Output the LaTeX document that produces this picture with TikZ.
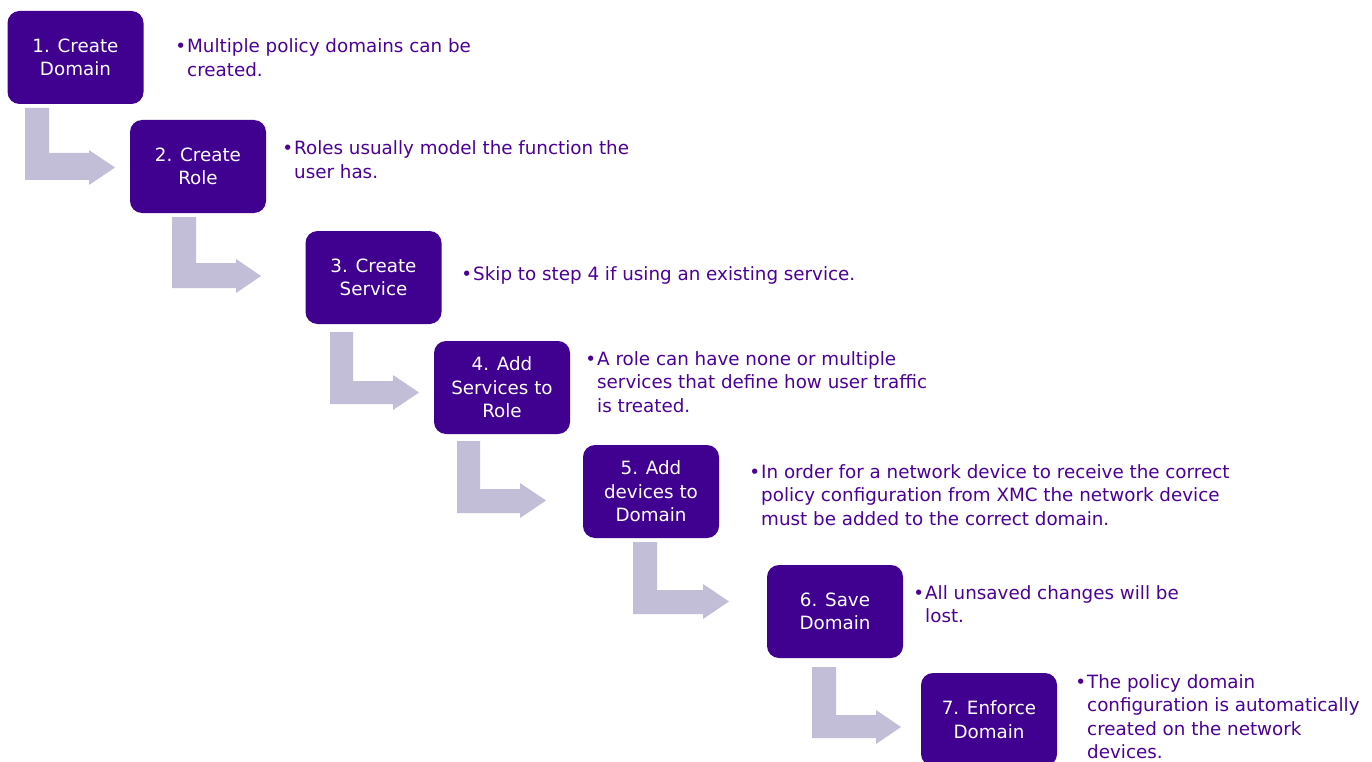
\documentclass[tikz,border=0pt]{standalone}
\usepackage{fontspec}
\setmainfont{DejaVu Sans}
\definecolor{boxcol}{RGB}{64,0,144}
\definecolor{txtcol}{RGB}{75,0,150}
\definecolor{arrcol}{RGB}{194,190,216}
\newcommand\bentarr[9]{% L R T barTop barBottom H X headTop headBottom
  \fill[arrcol] (#1,#3) -- (#2,#3) -- (#2,#4) -- (#6,#4) -- (#6,#8) -- (#7,{(#8+#9)/2}) -- (#6,#9) -- (#6,#5) -- (#1,#5) -- cycle;}
\begin{document}
\begin{tikzpicture}[x=1pt,y=-1pt,
  stepbox/.style={fill=boxcol, rounded corners=12pt, minimum width=136pt, minimum height=93pt,
    inner sep=0pt, text=white, align=center, font=\fontsize{18.3}{23.5}\selectfont},
  note/.style={anchor=base west, inner sep=0pt, text=txtcol, align=left,
    font=\fontsize{18.3}{23.5}\selectfont}]
\useasboundingbox (0,0) rectangle (1372,762);
\begin{scope}
\clip (0,0) rectangle (1372,762);
% bent arrows
\bentarr{25}{49}{108}{153}{180}{89}{115}{150}{185}
\bentarr{172}{196}{217}{263}{288}{236}{261}{259}{293}
\bentarr{330}{353}{332}{381}{404}{393}{419}{375}{410}
\bentarr{457}{480}{441}{489}{513}{520}{546}{483}{518}
\bentarr{633}{657}{542}{590}{614}{703}{729}{584}{619}
\bentarr{812}{836}{667}{715}{738}{876}{901}{710}{744}
% boxes
\node[stepbox] (b1) at (75.5,57.5) {1. Create\\Domain};
\node[stepbox] (b2) at (198,166.5) {2. Create\\Role};
\node[stepbox] (b3) at (373.5,277.5) {3. Create\\Service};
\node[stepbox] (b4) at (502,387.5) {4. Add\\Services to\\Role};
\node[stepbox] (b5) at (651,491.5) {5. Add\\devices to\\Domain};
\node[stepbox] (b6) at (835,611.5) {6. Save\\Domain};
\node[stepbox] (b7) at (989,719.5) {7. Enforce\\Domain};
% notes (anchor = baseline of last line)
\node[note] (t1) at (187,76.5) {\llap{•\kern1pt}Multiple policy domains can be\\created.};
\node[note] (t2) at (294,178.5) {\llap{•\kern1pt}Roles usually model the function the\\user has.};
\node[note] (t3) at (473,280) {\llap{•\kern1pt}Skip to step 4 if using an existing service.};
\node[note] (t4) at (597,412) {\llap{•\kern1pt}A role can have none or multiple\\services that define how user traffic\\is treated.};
\node[note] (t5) at (761,525) {\llap{•\kern1pt}In order for a network device to receive the correct\\policy configuration from XMC the network device\\must be added to the correct domain.};
\node[note] (t6) at (925,622.5) {\llap{•\kern1pt}All unsaved changes will be\\lost.};
\node[note] (t7) at (1087,758.5) {\llap{•\kern1pt}The policy domain\\configuration is automatically\\created on the network\\devices.};
\end{scope}
\end{tikzpicture}
\end{document}
